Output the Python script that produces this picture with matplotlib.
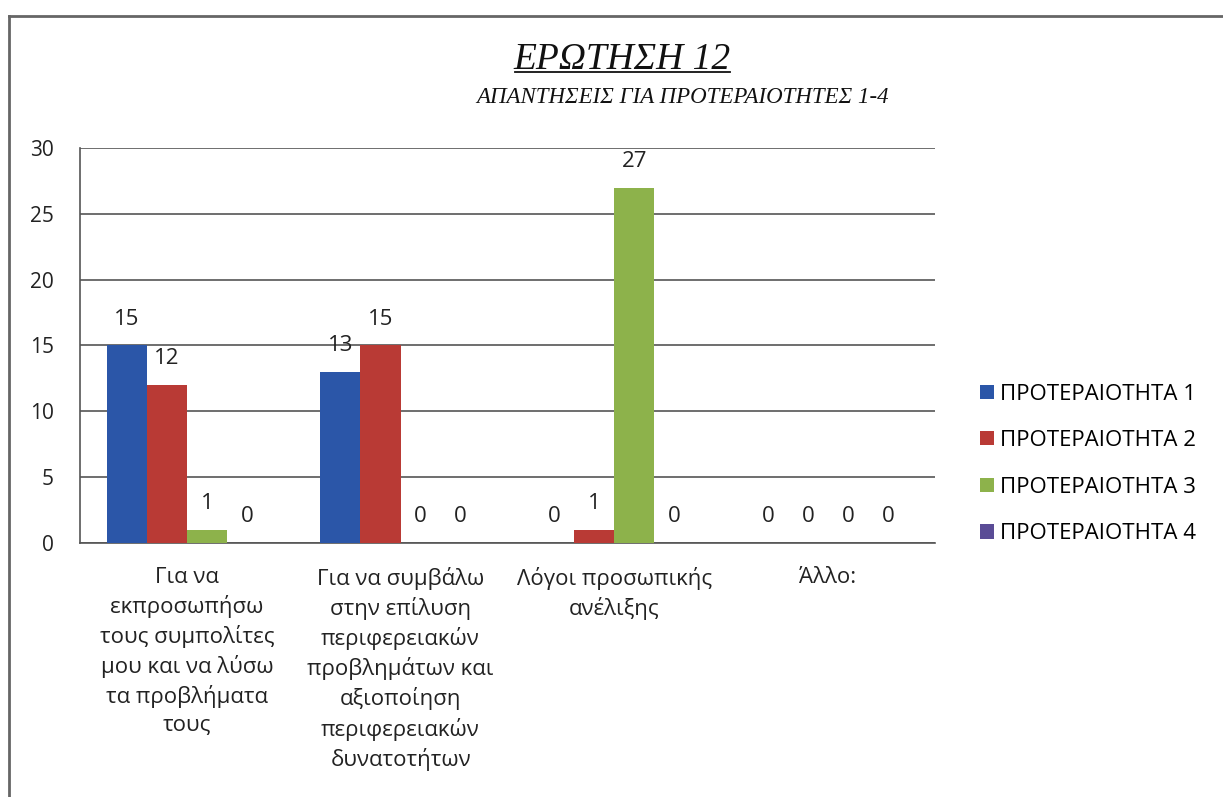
import numpy as np
import matplotlib.pyplot as plt

# Δεδομένα
categories = [
    'Για να\nεκπροσωπήσω\nτους συμπολίτες\nμου και να λύσω\nτα προβλήματα\nτους',
    'Για να συμβάλω\nστην επίλυση\nπεριφερειακών\nπροβλημάτων και\nαξιοποίηση\nπεριφερειακών\nδυνατοτήτων',
    'Λόγοι προσωπικής\nανέλιξης',
    'Άλλο:',
]
series_names = ['ΠΡΟΤΕΡΑΙΟΤΗΤΑ 1', 'ΠΡΟΤΕΡΑΙΟΤΗΤΑ 2', 'ΠΡΟΤΕΡΑΙΟΤΗΤΑ 3', 'ΠΡΟΤΕΡΑΙΟΤΗΤΑ 4']
p1 = [15, 13, 0, 0]
p2 = [12, 15, 1, 0]
p3 = [1, 0, 27, 0]
p4 = [0, 0, 0, 0]
colors = ['#2B56A8', '#B93A35', '#8DB24B', '#5A4C96']

font = 'Open Sans'
fig = plt.figure(figsize=(12.23, 7.97), dpi=100)
ax = fig.add_axes([0.0654, 0.3187, 0.699, 0.4956])

x = np.arange(len(categories))
w = 0.1875
for i, vals in enumerate([p1, p2, p3, p4]):
    pos = x - 1.5 * w + i * w
    ax.bar(pos, vals, w, color=colors[i], label=series_names[i], zorder=3)
    for xx, v in zip(pos, vals):
        ax.text(xx, v + 1.2, str(v), ha='center', va='bottom', fontsize=16,
                family=font, color='#222222')

ax.set_ylim(0, 30)
ax.set_xlim(-0.5, 3.5)
ax.set_yticks(range(0, 31, 5))
ax.yaxis.grid(True, color='#555555', linewidth=1.2, zorder=0)
ax.set_axisbelow(True)
ax.tick_params(axis='y', length=0, pad=19, labelsize=15)
ax.tick_params(axis='x', length=0, pad=17, labelsize=16)
ax.set_xticks(x)
ax.set_xticklabels(categories, family=font, linespacing=1.4, color='#222222')
for lbl in ax.get_yticklabels():
    lbl.set_family(font)
    lbl.set_color('#222222')
for s in ['top', 'right']:
    ax.spines[s].set_visible(False)
ax.spines['left'].set_color('#555555')
ax.spines['bottom'].set_color('#555555')
ax.spines['left'].set_linewidth(1.2)
ax.spines['bottom'].set_linewidth(1.2)

ax.legend(loc='center left', bbox_to_anchor=(1.053, 0.2), frameon=False,
          prop={'family': font, 'size': 16}, handlelength=0.6, handleheight=0.6,
          handletextpad=0.3, labelspacing=1.15, borderaxespad=0, borderpad=0)

fig.text(0.5085, 0.925, 'ΕΡΩΤΗΣΗ 12', ha='center', va='center', fontsize=27,
         family='Liberation Serif', style='italic', color='#111111')
fig.add_artist(plt.Line2D([0.421, 0.597], [0.9097, 0.9097], color='#111111', linewidth=1.3))
fig.text(0.5585, 0.878, 'ΑΠΑΝΤΗΣΕΙΣ ΓΙΑ ΠΡΟΤΕΡΑΙΟΤΗΤΕΣ 1-4', ha='center', va='center',
         fontsize=16.5, family='Liberation Serif', style='italic', color='#111111')

# περίγραμμα (πάνω και αριστερά)
fig.add_artist(plt.Line2D([0.0073, 1.0], [0.98, 0.98], color='#666666', linewidth=2))
fig.add_artist(plt.Line2D([0.0073, 0.0073], [0.0, 0.98], color='#666666', linewidth=2))

fig.savefig('out.png', dpi=100)
